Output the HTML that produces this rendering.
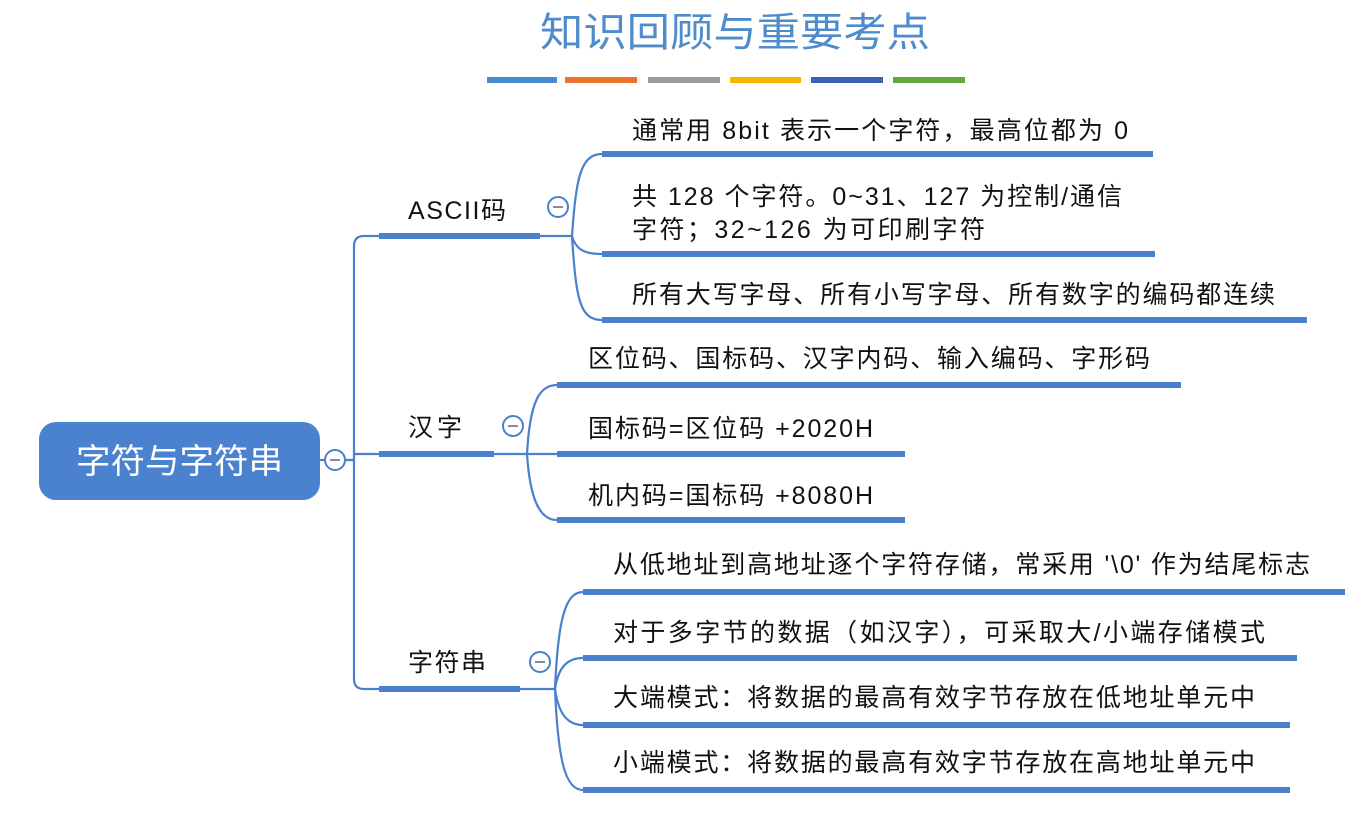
<!DOCTYPE html>
<html><head><meta charset="utf-8"><style>
html,body{margin:0;padding:0;background:#fff;}
svg text{font-family:"Liberation Sans","Noto Sans CJK SC",sans-serif;fill:#111;}
</style></head><body>
<svg width="1366" height="814" viewBox="0 0 1366 814" xmlns="http://www.w3.org/2000/svg">
<text x="540" y="46" textLength="390" lengthAdjust="spacingAndGlyphs" font-size="40" style="fill:#4f8ccc" font-family="Noto Sans CJK SC">知识回顾与重要考点</text>
<g>
<rect x="487" y="77" width="70" height="6" fill="#4a8ad0"/>
<rect x="565" y="77" width="72" height="6" fill="#e8722c"/>
<rect x="648" y="77" width="72" height="6" fill="#9a9a9a"/>
<rect x="730" y="77" width="71" height="6" fill="#f7b500"/>
<rect x="811" y="77" width="72" height="6" fill="#3a62b8"/>
<rect x="893" y="77" width="72" height="6" fill="#62a83c"/>
</g>
<g fill="none" stroke="#4a80cc" stroke-width="2.2">
<path d="M320 460 H354"/>
<path d="M379 236 H364 Q354 236 354 246 V679 Q354 689 364 689 H379"/>
<path d="M354 454 H379"/>
<path d="M540 236 H572"/>
<path d="M494 454 H557"/>
<path d="M520 689 H555"/>
<path d="M572 236 C576 180 580 154 602 154"/>
<path d="M572 236 C576 250 585 254 602 254"/>
<path d="M572 236 C576 300 580 320 602 320"/>
<path d="M527 454 C530 400 540 385 557 385"/>
<path d="M527 454 C530 500 540 520 557 520"/>
<path d="M555 689 C558 620 565 592 583 592"/>
<path d="M555 689 C558 670 565 658 583 658"/>
<path d="M555 689 C558 710 565 725 583 725"/>
<path d="M555 689 C558 760 565 790 583 790"/>
</g>
<g fill="#4a80cc">
<rect x="379" y="233" width="161" height="6"/>
<rect x="379" y="451" width="115" height="6"/>
<rect x="379" y="686" width="141" height="6"/>
<rect x="602" y="151" width="551" height="6"/>
<rect x="602" y="251" width="553" height="6"/>
<rect x="602" y="317" width="705" height="6"/>
<rect x="557" y="382" width="624" height="6"/>
<rect x="557" y="451" width="348" height="6"/>
<rect x="557" y="517" width="348" height="6"/>
<rect x="583" y="589" width="762" height="6"/>
<rect x="583" y="655" width="714" height="6"/>
<rect x="583" y="722" width="707" height="6"/>
<rect x="583" y="787" width="707" height="6"/>
</g>
<rect x="39" y="422" width="281" height="78" rx="17" fill="#4a82cf"/>
<text x="76" y="473" textLength="207" lengthAdjust="spacingAndGlyphs" font-size="34" style="fill:#fff">字符与字符串</text>
<g fill="#fff" stroke="#4a80cc" stroke-width="2">
<circle cx="335" cy="460" r="10"/>
<circle cx="558" cy="207" r="10"/>
<circle cx="513" cy="426" r="10"/>
<circle cx="540" cy="662" r="10"/>
</g>
<g stroke="#8a88aa" stroke-width="2">
<path d="M330 460h10M553 207h10M508 426h10M535 662h10"/>
</g>
<g font-size="25" lengthAdjust="spacingAndGlyphs">
<text x="408" y="219" textLength="98">ASCII码</text>
<text x="408" y="436" textLength="54">汉字</text>
<text x="408" y="671" textLength="78">字符串</text>
<text x="632" y="139" textLength="496">通常用 8bit 表示一个字符，最高位都为 0</text>
<text x="632" y="205" textLength="490">共 128 个字符。0~31、127 为控制/通信</text>
<text x="632" y="238" textLength="353">字符；32~126 为可印刷字符</text>
<text x="632" y="303" textLength="643">所有大写字母、所有小写字母、所有数字的编码都连续</text>
<text x="588" y="367" textLength="562">区位码、国标码、汉字内码、输入编码、字形码</text>
<text x="588" y="437" textLength="285">国标码=区位码 +2020H</text>
<text x="588" y="504" textLength="285">机内码=国标码 +8080H</text>
<text x="613" y="573" textLength="697">从低地址到高地址逐个字符存储，常采用 '\0' 作为结尾标志</text>
<text x="613" y="641" textLength="652">对于多字节的数据（如汉字），可采取大/小端存储模式</text>
<text x="613" y="706" textLength="642">大端模式：将数据的最高有效字节存放在低地址单元中</text>
<text x="613" y="771" textLength="642">小端模式：将数据的最高有效字节存放在高地址单元中</text>
</g>
</svg>
</body></html>
